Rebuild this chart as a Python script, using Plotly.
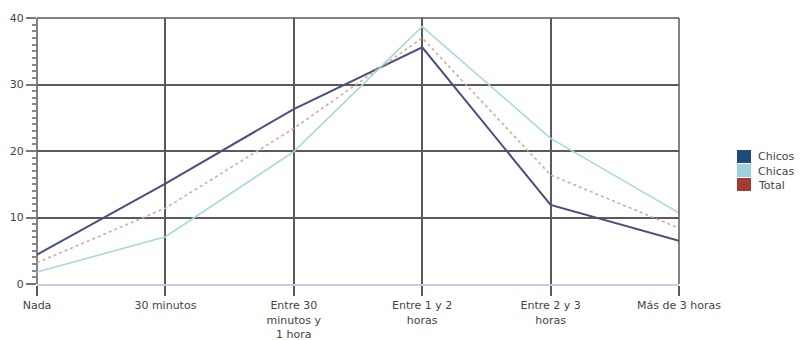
import plotly.graph_objects as go

categories = [
    "Nada",
    "30 minutos",
    "Entre 30<br>minutos y<br>1 hora",
    "Entre 1 y 2<br>horas",
    "Entre 2 y 3<br>horas",
    "Más de 3 horas",
]
chicos = [4.4, 15.1, 26.3, 35.6, 11.9, 6.5]
chicas = [1.8, 7.1, 19.9, 38.7, 21.9, 10.7]
total = [3.2, 11.4, 23.4, 37.0, 16.4, 8.4]

series_names = ["Chicos", "Chicas", "Total"]
line_colors = ["#4a4f80", "#a6d9de", "#dba896"]
legend_colors = ["#1f4a7c", "#9fd2de", "#a63a33"]
line_widths = [2, 1.6, 1.6]
line_dashes = ["solid", "solid", "dot"]

font_family = "Verdana, DejaVu Sans, sans-serif"

# Plot area geometry in pixels
W, H = 803, 340
ML, MR, MT, MB = 37, 124, 18, 56
PW, PH = W - ML - MR, H - MT - MB

fig = go.Figure()

for name, values, color, width, dash in zip(
    series_names, [chicos, chicas, total], line_colors, line_widths, line_dashes
):
    fig.add_trace(
        go.Scatter(
            x=categories,
            y=values,
            mode="lines",
            line=dict(color=color, width=width, dash=dash),
            showlegend=False,
            name=name,
        )
    )

fig.update_layout(
    width=W,
    height=H,
    margin=dict(l=ML, r=MR, t=MT, b=MB, autoexpand=False),
    paper_bgcolor="white",
    plot_bgcolor="white",
    font=dict(family=font_family, size=11, color="#444444"),
    showlegend=False,
)

fig.update_xaxes(
    type="category",
    range=[0, 5],
    automargin=False,
    showgrid=True,
    gridcolor="#5a5a5a",
    gridwidth=1.5,
    showline=True,
    linecolor="#c9c9e4",
    linewidth=2,
    ticks="outside",
    ticklen=10,
    tickcolor="#5a5a5a",
    tickwidth=1.5,
    tickfont=dict(size=11, color="#444444"),
    zeroline=False,
)

fig.update_yaxes(
    range=[0, 40],
    dtick=10,
    automargin=False,
    showgrid=True,
    gridcolor="#5a5a5a",
    gridwidth=1.5,
    showline=False,
    zeroline=False,
    ticks="outside",
    ticklen=10,
    tickcolor="#777777",
    tickwidth=1.5,
    tickfont=dict(size=11, color="#444444"),
    minor=dict(dtick=1, ticks="outside", ticklen=4, tickcolor="#888888", showgrid=False),
)

# Frame edges at the top, right and left of the plotting area
fig.add_shape(type="line", xref="paper", yref="paper", x0=0, x1=1, y0=1, y1=1,
              line=dict(color="#5a5a5a", width=1.5))
fig.add_shape(type="line", xref="paper", yref="paper", x0=1, x1=1, y0=0, y1=1,
              line=dict(color="#5a5a5a", width=1.5))
fig.add_shape(type="line", xref="paper", yref="paper", x0=0, x1=0, y0=0, y1=1,
              line=dict(color="#5a5a5a", width=1.5), layer="below")

# Compact legend with square swatches, placed in the right margin
def px_x(px):
    return (px - ML) / PW

def px_y(py):
    return (H - MB - py) / PH

legend_left = 737
first_row_top = 150
row_step = 14
swatch = 14
for i, (name, color) in enumerate(zip(series_names, legend_colors)):
    top = first_row_top + i * row_step
    fig.add_shape(
        type="rect", xref="paper", yref="paper",
        x0=px_x(legend_left), x1=px_x(legend_left + swatch),
        y0=px_y(top + swatch - 1), y1=px_y(top),
        fillcolor=color, line=dict(width=0),
    )
    fig.add_annotation(
        x=px_x(legend_left + swatch + 5), y=px_y(top + swatch / 2),
        xref="paper", yref="paper", xanchor="left", yanchor="middle",
        text=name, showarrow=False, font=dict(size=11, color="#444444"),
    )

fig.write_html("out.html")
